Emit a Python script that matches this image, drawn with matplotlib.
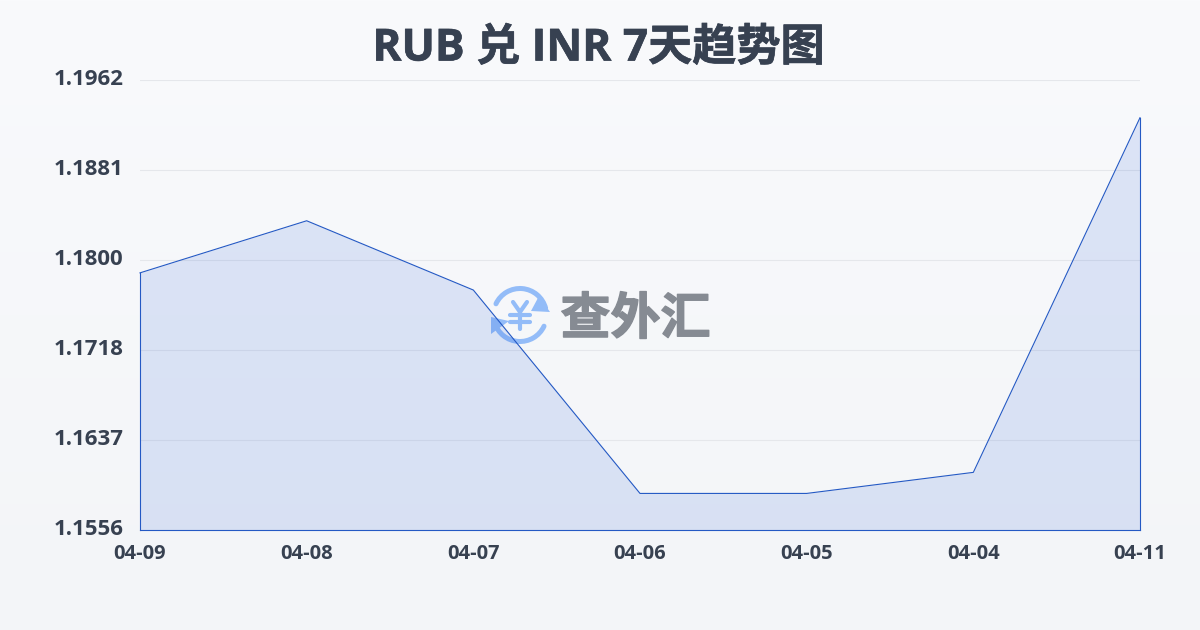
import numpy as np
import matplotlib
matplotlib.use('Agg')
from matplotlib import pyplot as plt
from matplotlib.patches import Arc, Polygon
from matplotlib.transforms import ScaledTranslation
import matplotlib.patheffects as pe

plt.rcParams['font.family'] = ['Open Sans', 'Noto Sans CJK SC', 'DejaVu Sans']

dates = ['04-09', '04-08', '04-07', '04-06', '04-05', '04-04', '04-11']
rates = [1.1788, 1.1835, 1.17725, 1.1589, 1.1589, 1.1608, 1.1928]
y_ticks = [1.1556, 1.16372, 1.17184, 1.17996, 1.18808, 1.1962]
y_labels = ['1.1556', '1.1637', '1.1718', '1.1800', '1.1881', '1.1962']

W, H = 1200, 630
text_color = '#374151'
line_color = '#2459c4'

fig = plt.figure(figsize=(W / 100, H / 100), dpi=100)

# background gradient + watermark share one pixel-coordinate axes
bg = fig.add_axes([0, 0, 1, 1], zorder=0)
top = np.array([249, 250, 252]) / 255
bottom = np.array([243, 245, 248]) / 255
grad = np.linspace(0, 1, H)[:, None, None] * (bottom - top) + top
bg.imshow(grad, extent=(0, W, H, 0), aspect='auto')
bg.set_xlim(0, W)
bg.set_ylim(H, 0)
bg.axis('off')

# watermark logo
blue = '#93bcf8'
cx, cy, r = 520, 315, 26.5
bg.add_patch(Arc((cx, cy), 2 * r, 2 * r, theta1=25, theta2=163, color=blue, lw=3.6, capstyle='round'))
bg.add_patch(Arc((cx, cy), 2 * r, 2 * r, theta1=205, theta2=345, color=blue, lw=3.6, capstyle='round'))
bg.add_patch(Polygon([(539, 296), (550, 312), (531, 311)], color=blue, lw=0))
bg.add_patch(Polygon([(491, 334), (491, 317), (509, 321)], color=blue, lw=0))
# yen sign inside the ring
for xs, ys in [([513, 520, 527], [302, 312, 302]), ([510, 530], [315, 315]),
               ([510, 530], [322, 322]), ([520, 520], [312, 329])]:
    bg.plot(xs, ys, color=blue, lw=3, solid_capstyle='round', solid_joinstyle='round')
logo_text = bg.text(635.5, 321, '查外汇', color='#868b93', fontsize=36, fontweight='bold',
                    ha='center', va='center')
logo_text.set_path_effects([pe.withStroke(linewidth=1.0, foreground='#868b93')])

ax = fig.add_axes([140 / W, 1 - 530 / H, 1000 / W, 450 / H], zorder=1)
ax.patch.set_alpha(0)

x = np.arange(len(dates))
ax.fill_between(x, rates, y_ticks[0], color='#2058d8', alpha=0.13, lw=0)
ax.plot([x[0], x[0]], [y_ticks[0], rates[0]], color=line_color, lw=0.8, clip_on=False)
ax.plot([x[-1], x[-1]], [y_ticks[0], rates[-1]], color=line_color, lw=0.8, clip_on=False)
ax.plot([x[0], x[-1]], [y_ticks[0], y_ticks[0]], color=line_color, lw=0.8, clip_on=False)
ax.plot(x, rates, color=line_color, lw=0.8, clip_on=False)

ax.set_xlim(x[0], x[-1])
ax.set_ylim(y_ticks[0], y_ticks[-1])
ax.set_xticks(x)
ax.set_xticklabels(dates)
ax.set_yticks(y_ticks)
ax.set_yticklabels(y_labels)
ax.grid(axis='y', color='#e5e7eb', lw=0.8)
ax.set_axisbelow(True)
for s in ax.spines.values():
    s.set_visible(False)
ax.tick_params(length=0)
ax.tick_params(axis='x', labelsize=14.5, labelcolor=text_color, pad=10)
ax.tick_params(axis='y', labelsize=16, labelcolor=text_color, pad=37)
for t in ax.get_xticklabels() + ax.get_yticklabels():
    t.set_fontweight('bold')
shift_up = ScaledTranslation(0, 2.5 / 72, fig.dpi_scale_trans)
for t in ax.get_yticklabels():
    t.set_ha('center')
    t.set_transform(t.get_transform() + shift_up)

title = fig.text(598.5 / W, 1 - 49 / H, 'RUB 兑 INR 7天趋势图', color=text_color, fontsize=31.8,
                 fontweight='bold', ha='center', va='center')
title.set_path_effects([pe.withStroke(linewidth=0.5, foreground=text_color)])

fig.savefig('out.png', dpi=100)
